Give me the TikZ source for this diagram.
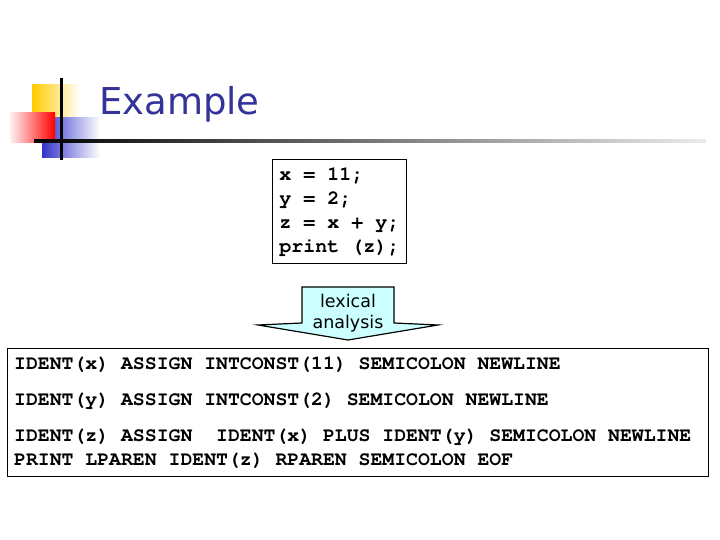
\documentclass[tikz,border=0pt]{standalone}
\usepackage{fontspec}
\setmainfont{DejaVu Sans}
\setmonofont{texgyrecursor}[Extension=.otf,UprightFont=*-regular,BoldFont=*-bold]
\usetikzlibrary{positioning}
\definecolor{titleblue}{RGB}{51,51,153}
\definecolor{sqyellow}{RGB}{255,204,0}
\definecolor{sqblue}{RGB}{51,51,204}
\definecolor{sqred}{RGB}{255,0,0}
\definecolor{arrowfill}{RGB}{204,255,255}

\begin{document}
\begin{tikzpicture}[
    x=1pt,y=1pt,
    codebox/.style={draw=black,line width=0.8pt,align=left,inner xsep=6pt,
      font=\fontsize{20}{24}\selectfont\ttfamily\bfseries},
    tokfont/.style={align=left,inner sep=0pt,
      font=\fontsize{19.8}{24}\selectfont\ttfamily\bfseries},
    blockarr/.style={draw=black,line width=1.2pt,fill=arrowfill}
  ]
  \useasboundingbox (0,0) rectangle (720,540);

  % title decoration
  \shade[left color=sqyellow,middle color=sqyellow,right color=white] (32,420) rectangle (80,455);
  \shade[left color=sqblue,middle color=sqblue,right color=white] (42,382) rectangle (100,422);
  \shade[left color=sqred!5,right color=sqred] (10,397) rectangle (55,427);
  \fill[black] (59.5,380) rectangle (62.5,462);
  \shade[left color=black,middle color=gray,right color=gray!15] (34,397.5) rectangle (706,400.5);
  \node[anchor=base west,inner sep=0pt,text=titleblue,
    font=\fontsize{37}{37}\selectfont] (title) at (99,425) {Example};

  \node[codebox,anchor=north west,minimum width=134pt,minimum height=104pt,text depth=3pt] (src) at (272,381)
    {x = 11;\\y = 2;\\z = x + y;\\print (z);};

  % lexer arrow
  \draw[blockarr] (302,253) -- (394,253) -- (394,217) -- (438,215) -- (348,200)
    -- (258,215) -- (302,217) -- cycle;
  \node[align=center,inner sep=0pt,font=\fontsize{17.5}{21}\selectfont] (lex) at (348,227)
    {lexical\\analysis};

  % token stream
  \node[draw=black,line width=0.8pt,anchor=north west,minimum height=128pt,
    minimum width=701pt] (toks) at (7,192) {};
  \node[tokfont,anchor=north west] (toktext) at ([xshift=7pt,yshift=-9pt]toks.north west)
    {IDENT(x) ASSIGN INTCONST(11) SEMICOLON NEWLINE\\[12pt]
     IDENT(y) ASSIGN INTCONST(2) SEMICOLON NEWLINE\\[12pt]
     IDENT(z) ASSIGN\ \ IDENT(x) PLUS IDENT(y) SEMICOLON NEWLINE\\
     PRINT LPAREN IDENT(z) RPAREN SEMICOLON EOF};
\end{tikzpicture}
\end{document}
